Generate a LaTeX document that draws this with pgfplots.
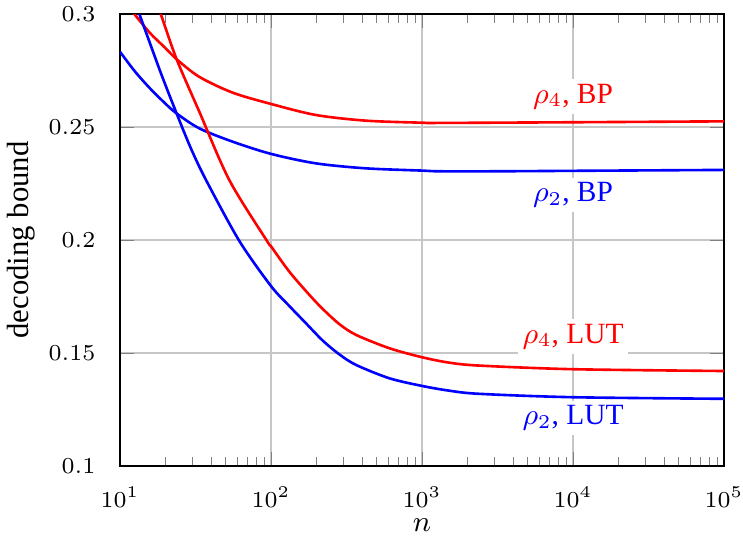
\documentclass[border=0pt]{standalone}
\usepackage{fontspec}
\setmainfont{Liberation Serif}
\usepackage{pgfplots}
\pgfplotsset{compat=1.18}
\begin{document}
\begin{tikzpicture}
\begin{semilogxaxis}[
  scale only axis, width=185pt, height=138.4pt,
  xmin=10, xmax=1e5, ymin=0.1, ymax=0.3,
  ytick={0.1,0.15,0.2,0.25,0.3},
  grid=major, major grid style={gray!45, line width=0.4pt},
  tick label style={font=\fontsize{7}{9}\selectfont},
  yticklabel style={xshift=-4pt},
  xticklabel style={yshift=-3pt},
  xlabel={$n$}, ylabel={decoding bound},
  label style={font=\fontsize{9.4}{11}\selectfont},
  xlabel style={yshift=3.5pt},
  ylabel style={yshift=-2.8pt},
  every axis plot/.append style={thick, line join=round, no marks, smooth, tension=0.5},
]
% rho_2, BP
\addplot[blue] coordinates {
(10,0.2833) (12.59,0.2745) (15.85,0.2670) (19.95,0.2604) (23.71,0.2560) (33.50,0.2494)
(55.72,0.2435) (100,0.2381) (198.6,0.2339) (425.6,0.2317) (1000,0.2307) (1303,0.2304)
(3162,0.2304) (10000,0.2306) (100000,0.2310)};
% rho_4, BP
\addplot[red] coordinates {
(10,0.3085) (12.45,0.3000) (15.85,0.2915) (19.95,0.2850) (23.71,0.2800) (33.50,0.2722)
(55.72,0.2652) (100,0.2602) (198.6,0.2553) (425.6,0.2528) (1000,0.2519) (1303,0.2518)
(10000,0.2521) (100000,0.2525)};
% rho_2, LUT
\addplot[blue] coordinates {
(10,0.323) (13.43,0.3000) (18.62,0.2740) (23.71,0.2560) (29.5,0.2405) (37.15,0.2265) (61.66,0.1996)
(100,0.1796) (132.1,0.1708) (170.6,0.1631) (219.8,0.1555) (283.1,0.1494) (365.6,0.1447)
(606.7,0.1388) (1000,0.1354) (1514,0.1333) (2399,0.1319) (10000,0.1304) (100000,0.1297)};
% rho_4, LUT
\addplot[red] coordinates {
(15.85,0.313) (18.62,0.3000) (23.71,0.2800) (33.50,0.2568) (52.97,0.2265) (93.97,0.1996)
(100,0.1972) (132.1,0.1860) (179.5,0.1757) (219.8,0.1695) (283.1,0.1628) (365.6,0.1580) (606.7,0.1521)
(1000,0.1481) (1514,0.1457) (2399,0.1444) (10000,0.1428) (100000,0.1420)};
\node[red, fill=white, inner sep=1.5pt, font=\fontsize{9}{11}\selectfont] at (axis cs:1e4,0.2634) {$\rho_4$, BP};
\node[blue, fill=white, inner sep=1.5pt, font=\fontsize{9}{11}\selectfont] at (axis cs:1e4,0.2199) {$\rho_2$, BP};
\node[red, fill=white, inner sep=1.5pt, font=\fontsize{9}{11}\selectfont] at (axis cs:1e4,0.1572) {$\rho_4$, LUT};
\node[blue, fill=white, inner sep=1.5pt, font=\fontsize{9}{11}\selectfont] at (axis cs:1e4,0.1212) {$\rho_2$, LUT};
\end{semilogxaxis}
\pgfresetboundingbox
\path ([shift={(-36.75pt,-22.05pt)}]current axis.south west) rectangle ([shift={(5.8pt,4.3pt)}]current axis.north east);
\end{tikzpicture}
\end{document}
